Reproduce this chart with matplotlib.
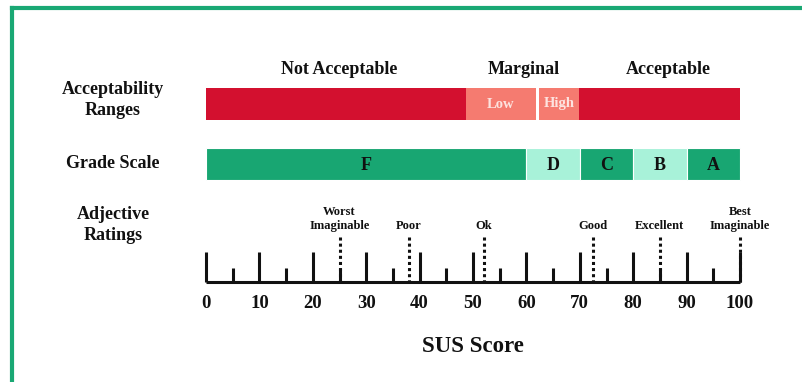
import matplotlib.pyplot as plt
from matplotlib.lines import Line2D

plt.rcParams['font.family'] = ['Liberation Serif', 'DejaVu Serif']
plt.rcParams['font.weight'] = 'bold'

# acceptability ranges (score from, score to)
range_names = ['Not Acceptable', 'Marginal', 'Acceptable']
range_label_x = [25, 59.5, 86.5]
range_full = (0, 100)
marginal_names = ['Low', 'High']
marginal_start = [48.6, 62.4]
marginal_end = [61.8, 69.8]

# grade scale
grades = ['F', 'D', 'C', 'B', 'A']
grade_start = [0, 60, 70, 80, 90]
grade_end = [60, 70, 80, 90, 100]

# adjective ratings
adjectives = ['Worst\nImaginable', 'Poor', 'Ok', 'Good', 'Excellent', 'Best\nImaginable']
adjective_score = [25, 38, 52, 72.5, 85, 100]

major_ticks = list(range(0, 101, 10))
minor_ticks = list(range(5, 100, 10))
row_labels = ['Acceptability\nRanges', 'Grade Scale', 'Adjective\nRatings']

RED = '#d3102f'
SALMON = '#f57b70'
GREEN = '#18a672'
MINT = '#a8f2d9'
DARK = '#111111'

W, H = 803, 382
fig = plt.figure(figsize=(W / 100, H / 100), dpi=100)
ax = fig.add_axes([0, 0, 1, 1])
ppu = 5.34  # pixels per score unit
x0 = 206
ax.set_xlim(-x0 / ppu, (W - x0) / ppu)
ax.set_ylim(H, 0)
ax.axis('off')

# green frame
fig.add_artist(Line2D([12 / W, 1], [1 - 8 / H, 1 - 8 / H], color='#1aa874', lw=3, transform=fig.transFigure))
fig.add_artist(Line2D([12 / W, 12 / W], [0, 1 - 8 / H], color='#1aa874', lw=3, transform=fig.transFigure))

# row labels on the left
label_x = (113 - x0) / ppu
ax.text(label_x, 100, row_labels[0], ha='center', va='center', fontsize=13, linespacing=1.35, color=DARK)
ax.text(label_x, 164, row_labels[1], ha='center', va='center', fontsize=13, color=DARK)
ax.text(label_x, 225, row_labels[2], ha='center', va='center', fontsize=13, linespacing=1.35, color=DARK)

# acceptability bar
ax.barh(104, range_full[1] - range_full[0], left=range_full[0], height=32, color=RED)
for name, s, e in zip(marginal_names, marginal_start, marginal_end):
    ax.barh(104, e - s, left=s, height=32, color=SALMON)
    ax.text((s + e) / 2, 104, name, ha='center', va='center', fontsize=10.5, color='#fde3df')
# thin white gap between Low and High
ax.barh(104, marginal_start[1] - marginal_end[0], left=marginal_end[0], height=32, color='white')
for name, x in zip(range_names, range_label_x):
    ax.text(x, 69, name, ha='center', va='center', fontsize=13, color=DARK)

# grade bar
for i, (g, s, e) in enumerate(zip(grades, grade_start, grade_end)):
    c = GREEN if i % 2 == 0 else MINT
    ax.barh(164, e - s, left=s, height=32, color=c, edgecolor='white', linewidth=0.8)
    ax.text((s + e) / 2, 165, g, ha='center', va='center', fontsize=13, color=DARK)

# scale
ax.hlines(282, 0, 100, color=DARK, lw=2.2)
ax.vlines(major_ticks, 252, 282, color=DARK, lw=2.2)
ax.vlines(minor_ticks, 268, 282, color=DARK, lw=2.2)
for t in major_ticks:
    ax.text(t, 303, str(t), ha='center', va='center', fontsize=13.5, color=DARK)

for name, s in zip(adjectives, adjective_score):
    ax.vlines(s, 237, 282, color=DARK, lw=2.2, linestyles=(0, (1, 1)))
    ax.text(s, 232, name, ha='center', va='bottom', fontsize=9, linespacing=1.25, color=DARK)

ax.text(50, 347, 'SUS Score', ha='center', va='center', fontsize=16.5, color=DARK)

fig.savefig('out.png', dpi=100)
